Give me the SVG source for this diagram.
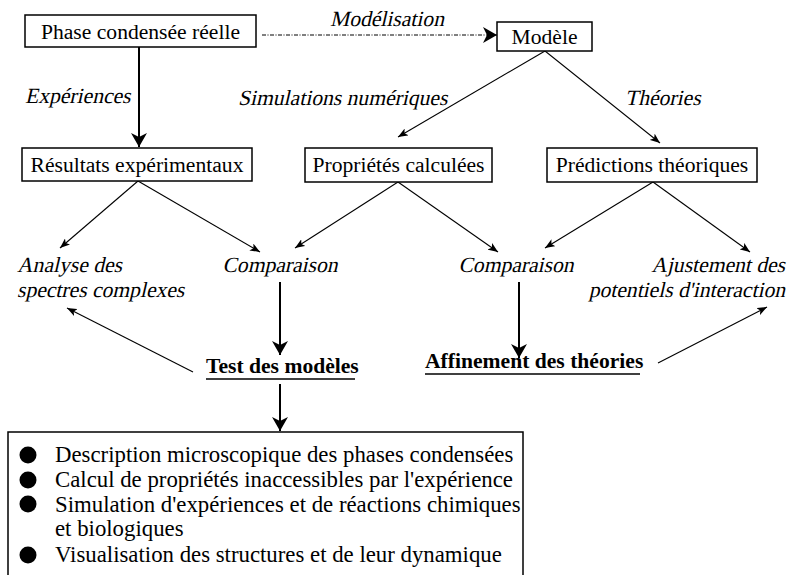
<svg xmlns="http://www.w3.org/2000/svg" width="789" height="575" viewBox="0 0 789 575">
  <style>
    .box { fill: #fff; stroke: #000; stroke-width: 1.5; }
    .t { font-family: "Liberation Serif", "Times New Roman", serif; font-size: 21.6px; fill: #000; }
    .b { font-weight: bold; }
    .mid { text-anchor: middle; }
    .end { text-anchor: end; }
    .li { font-family: "Liberation Serif", "Times New Roman", serif; font-size: 22.8px; fill: #000; }
    .thin { stroke: #000; stroke-width: 1.1; fill: none; marker-end: url(#sm); }
    .thick { stroke: #000; stroke-width: 2; fill: none; marker-end: url(#lg); }
    .dash { stroke: #000; stroke-width: 1; stroke-dasharray: 4 1.5 1 1.5; fill: none; marker-end: url(#lg); }
  </style>
  <defs>
    <marker id="sm" viewBox="0 0 10 8" refX="10" refY="4" markerWidth="10" markerHeight="8" markerUnits="userSpaceOnUse" orient="auto">
      <path d="M0,0 L10,4 L0,8 L2.5,4 Z" fill="#000"/>
    </marker>
    <marker id="lg" viewBox="0 0 14 16" refX="14" refY="8" markerWidth="14" markerHeight="16" markerUnits="userSpaceOnUse" orient="auto">
      <path d="M0,0 L14,8 L0,16 L4,8 Z" fill="#000"/>
    </marker>
  </defs>

  <!-- connectors -->
  <g id="connectors">
    <line class="dash" x1="262" y1="35" x2="497" y2="35"/>
    <line class="thick" x1="139" y1="47" x2="139" y2="147"/>
    <line class="thin" x1="545" y1="51" x2="398" y2="137"/>
    <line class="thin" x1="545" y1="51" x2="660" y2="143"/>
    <line class="thin" x1="138" y1="181" x2="60" y2="248"/>
    <line class="thin" x1="138" y1="181" x2="260" y2="252"/>
    <line class="thin" x1="398" y1="182" x2="295" y2="248"/>
    <line class="thin" x1="398" y1="182" x2="498" y2="252"/>
    <line class="thin" x1="653" y1="182" x2="545" y2="248"/>
    <line class="thin" x1="653" y1="182" x2="750" y2="252"/>
    <line class="thick" x1="280" y1="282" x2="280" y2="355"/>
    <line class="thick" x1="519" y1="282" x2="519" y2="358"/>
    <line class="thin" x1="193" y1="372" x2="67" y2="308"/>
    <line class="thin" x1="658" y1="363" x2="767" y2="307"/>
    <line class="thick" x1="280" y1="384" x2="280" y2="431"/>
  </g>

  <!-- edge labels, slanted serif -->
  <g id="labels">
    <g transform="translate(330,26) skewX(-13)"><text class="t">Modélisation</text></g>
    <g transform="translate(25,103) skewX(-13)"><text class="t">Expériences</text></g>
    <g transform="translate(238,105) skewX(-13)"><text class="t">Simulations numériques</text></g>
    <g transform="translate(625,105) skewX(-13)"><text class="t">Théories</text></g>
  </g>

  <g id="phase">
    <rect class="box" x="25" y="15" width="231" height="32"/>
    <text class="t mid" x="140.5" y="39">Phase condensée réelle</text>
  </g>
  <g id="modele">
    <rect class="box" x="497" y="22" width="95" height="29"/>
    <text class="t mid" x="544.5" y="44">Modèle</text>
  </g>
  <g id="resultats">
    <rect class="box" x="22" y="148" width="230" height="33"/>
    <text class="t mid" x="137" y="172">Résultats expérimentaux</text>
  </g>
  <g id="proprietes">
    <rect class="box" x="305" y="148" width="187" height="34"/>
    <text class="t mid" x="398.5" y="172">Propriétés calculées</text>
  </g>
  <g id="predictions">
    <rect class="box" x="547" y="148" width="210" height="34"/>
    <text class="t mid" x="652" y="172">Prédictions théoriques</text>
  </g>

  <g id="analyse">
    <g transform="translate(17,272) skewX(-13)"><text class="t">Analyse des</text></g>
    <g transform="translate(17,297) skewX(-13)"><text class="t">spectres complexes</text></g>
  </g>
  <g id="comparaison1">
    <g transform="translate(280,272) skewX(-13)"><text class="t mid">Comparaison</text></g>
  </g>
  <g id="comparaison2">
    <g transform="translate(516,272) skewX(-13)"><text class="t mid">Comparaison</text></g>
  </g>
  <g id="ajustement">
    <g transform="translate(785,272) skewX(-13)"><text class="t end">Ajustement des</text></g>
    <g transform="translate(785,297) skewX(-13)"><text class="t end">potentiels d'interaction</text></g>
  </g>

  <g id="test">
    <text class="t b" x="206" y="373">Test des modèles</text>
    <line x1="206" y1="379" x2="355" y2="379" stroke="#000" stroke-width="1.3"/>
  </g>
  <g id="affinement">
    <text class="t b" x="425" y="368">Affinement des théories</text>
    <line x1="425" y1="374" x2="640" y2="374" stroke="#000" stroke-width="1.3"/>
  </g>

  <g id="applications">
    <rect class="box" x="8" y="432" width="515" height="150"/>
    <circle cx="28" cy="455" r="8.5"/>
    <circle cx="28" cy="480" r="8.5"/>
    <circle cx="28" cy="504" r="8.5"/>
    <circle cx="28" cy="555" r="8.5"/>
    <text class="li" x="55" y="462">Description microscopique des phases condensées</text>
    <text class="li" x="55" y="487">Calcul de propriétés inaccessibles par l'expérience</text>
    <text class="li" x="55" y="512">Simulation d'expériences et de réactions chimiques</text>
    <text class="li" x="55" y="536">et biologiques</text>
    <text class="li" x="55" y="562">Visualisation des structures et de leur dynamique</text>
  </g>
</svg>
